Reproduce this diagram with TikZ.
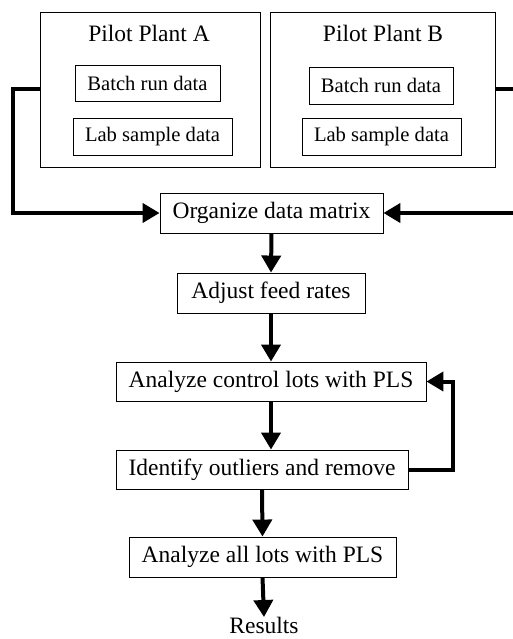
\documentclass[tikz,border=0pt]{standalone}
\usepackage{fontspec}
\setmainfont{Liberation Serif}
\usetikzlibrary{arrows.meta,calc}
\begin{document}
\begin{tikzpicture}[x=1pt,y=-1pt,
  box/.style={draw, line width=0.9pt, inner sep=0pt, anchor=center,
    font=\fontsize{23.5}{28}\selectfont},
  inbox/.style={draw, line width=0.9pt, inner sep=0pt, anchor=center,
    font=\fontsize{20.6}{24}\selectfont},
  plain/.style={inner sep=0pt, anchor=center, font=\fontsize{23.5}{28}\selectfont},
  flow/.style={line width=4pt, -{Triangle[length=17pt,width=19pt]}},
  link/.style={line width=4pt}]
\useasboundingbox (0,0) rectangle (513,639);
% plant boxes
\node[box, minimum width=220pt, minimum height=155pt] (plantA) at (150,89.5) {};
\node[box, minimum width=225pt, minimum height=155pt] (plantB) at (382.5,89.5) {};
\node[plain] (titleA) at (149,33) {Pilot Plant A};
\node[plain] (titleB) at (383,33) {Pilot Plant B};
\node[inbox, minimum width=145pt, minimum height=36pt] (batchA) at (147.5,83) {Batch run data};
\node[inbox, minimum width=159pt, minimum height=37pt] (labA) at (152.5,136.5) {Lab sample data};
\node[inbox, minimum width=144pt, minimum height=37pt] (batchB) at (381,85.5) {Batch run data};
\node[inbox, minimum width=159pt, minimum height=37pt] (labB) at (381.5,136.5) {Lab sample data};
% process boxes
\node[box, minimum width=223pt, minimum height=40pt] (org) at (271.5,213) {Organize data matrix};
\node[box, minimum width=188pt, minimum height=40pt] (adj) at (271,293) {Adjust feed rates};
\node[box, minimum width=310pt, minimum height=39pt] (ctrl) at (271,381.5) {Analyze control lots with PLS};
\node[box, minimum width=292pt, minimum height=39pt] (ident) at (262,469.5) {Identify outliers and remove};
\node[box, minimum width=267pt, minimum height=40pt] (all) at (262.5,557) {Analyze all lots with PLS};
\node[plain] (res) at (264,625.5) {Results};
% helper coordinates
\coordinate (lx) at (13,0);
\coordinate (rx) at (516,0);
\coordinate (fx) at (453,0);
% connectors
\draw[flow] (plantA.west) -- (plantA.west -| lx) |- (org.west);
\draw[link] (plantB.east) -- (plantB.east -| rx);
\draw[flow] (org.east -| rx) -- (org.east);
\draw[flow] (org.south) -- (adj.north);
\draw[flow] (adj.south) -- (adj.south |- ctrl.north);
\draw[flow] (ctrl.south) -- (ctrl.south |- ident.north);
\draw[flow] (ident.south) -- (all.north);
\draw[flow] (all.south) -- (res.north);
\draw[flow] (ident.east) -- (ident.east -| fx) |- (ctrl.east);
\end{tikzpicture}
\end{document}
